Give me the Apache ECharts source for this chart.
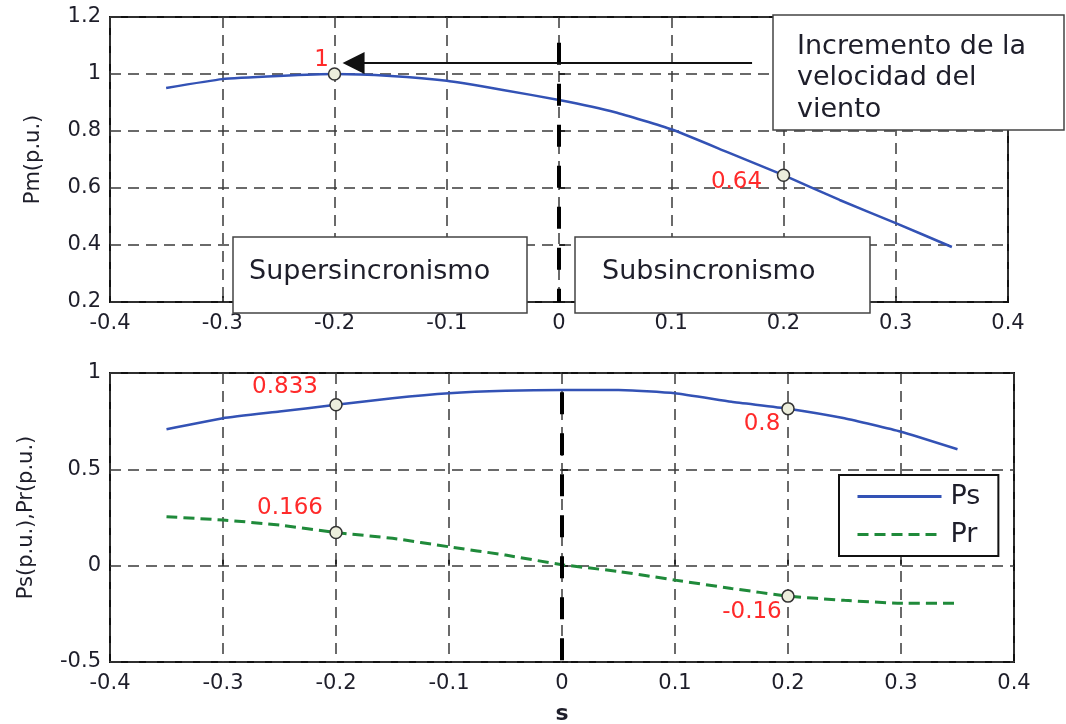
<!DOCTYPE html>
<html>
<head>
<meta charset="utf-8">
<script src="https://cdn.jsdelivr.net/npm/echarts@6/dist/echarts.min.js"></script>
<style>
  html, body { margin: 0; padding: 0; background: #fff; }
  #main { width: 1066px; height: 724px; }
</style>
</head>
<body>
<div id="main"></div>
<script>
// slip values (s) shared by all curves
const sVals = [-0.35, -0.3, -0.25, -0.2, -0.15, -0.1, -0.05, 0, 0.05, 0.1, 0.15, 0.2, 0.25, 0.3, 0.35];
const pm = [0.951, 0.982, 0.993, 1.0, 0.993, 0.976, 0.944, 0.909, 0.866, 0.806, 0.726, 0.645, 0.558, 0.477, 0.393];
const ps = [0.708, 0.765, 0.80, 0.835, 0.869, 0.895, 0.908, 0.912, 0.912, 0.895, 0.851, 0.815, 0.765, 0.695, 0.604];
const pr = [0.254, 0.237, 0.211, 0.172, 0.142, 0.098, 0.055, 0.005, -0.03, -0.075, -0.118, -0.158, -0.18, -0.195, -0.195];

// highlighted points and their labels
const pmMarks = [[-0.2, 1.0], [0.2, 0.645]];
const pmMarkLabels = ['1', '0.64'];
const psMarks = [[-0.2, 0.835], [0.2, 0.815]];
const psMarkLabels = ['0.833', '0.8'];
const prMarks = [[-0.2, 0.172], [0.2, -0.158]];
const prMarkLabels = ['0.166', '-0.16'];

const xTicks = { min: -0.4, max: 0.4, interval: 0.1 };
const pmTicks = { min: 0.2, max: 1.2, interval: 0.2 };
const pTicks = { min: -0.5, max: 1, interval: 0.5 };

const FONT = 'DejaVu Sans, Verdana, sans-serif';
const BLUE = '#3352b5';
const GREEN = '#1f8a3a';

const chart = echarts.init(document.getElementById('main'));

const zip = (xs, ys) => xs.map((x, i) => [x, ys[i]]);

function markData(points, labels, offsets) {
    return points.map((p, i) => ({
        value: p,
        label: { show: true, formatter: labels[i], offset: offsets[i] }
    }));
}

const markerStyle = {
    type: 'scatter',
    symbol: 'circle',
    symbolSize: 12,
    itemStyle: { color: '#eceedc', borderColor: '#333', borderWidth: 1.5, opacity: 1 },
    label: { position: 'inside', color: '#ff2a2a', fontSize: 23, fontFamily: FONT },
    z: 5,
    silent: true
};

const gridLine = { show: true, lineStyle: { color: '#3a3a3a', width: 1.5, type: [11, 7] } };
const tickStyle = { show: true, inside: true, length: 6, lineStyle: { color: '#111', width: 1.5 } };
const labelStyle = { color: '#1e1e2a', fontSize: 21, fontFamily: FONT };
const nameStyle = { color: '#1e1e2a', fontSize: 21, fontFamily: FONT };
const zeroLine = { color: '#000', width: 4, type: [22, 19] };

function textBox(x, y, w, h, text, tx, ty) {
    return {
        type: 'group',
        z: 100,
        children: [
            { type: 'rect', shape: { x: x, y: y, width: w, height: h }, style: { fill: '#fff', stroke: '#444', lineWidth: 1.5 }, z: 100 },
            { type: 'text', x: tx, y: ty, style: { text: text, font: '27px ' + FONT, fill: '#1e1e2a', lineHeight: 31.5, verticalAlign: 'top' }, z: 101 }
        ]
    };
}

const option = {
    animation: false,
    backgroundColor: '#fff',
    grid: [
        { left: 110, right: 58, top: 17, height: 285, outerBoundsMode: 'none', show: true, borderColor: '#111', borderWidth: 2, backgroundColor: 'transparent' },
        { left: 110, right: 52, top: 373, height: 289, outerBoundsMode: 'none', show: true, borderColor: '#111', borderWidth: 2, backgroundColor: 'transparent' }
    ],
    xAxis: [
        { type: 'value', gridIndex: 0, ...xTicks, axisLine: { show: false }, axisTick: tickStyle, splitLine: gridLine, axisLabel: { ...labelStyle, margin: 11 } },
        { type: 'value', gridIndex: 1, ...xTicks, axisLine: { show: false }, axisTick: tickStyle, splitLine: gridLine, axisLabel: { ...labelStyle, margin: 11 },
          name: 's', nameLocation: 'middle', nameGap: 41, nameTextStyle: { ...nameStyle, fontSize: 22, fontWeight: 'bold' } }
    ],
    yAxis: [
        { type: 'value', gridIndex: 0, ...pmTicks, axisLine: { show: false }, axisTick: tickStyle, splitLine: gridLine, axisLabel: { ...labelStyle, margin: 9 },
          name: 'Pm(p.u.)', nameLocation: 'middle', nameGap: 66, nameTextStyle: nameStyle },
        { type: 'value', gridIndex: 1, ...pTicks, axisLine: { show: false }, axisTick: tickStyle, splitLine: gridLine, axisLabel: { ...labelStyle, margin: 9 },
          name: 'Ps(p.u.),Pr(p.u.)', nameLocation: 'middle', nameGap: 73, nameTextStyle: nameStyle }
    ],
    legend: {
        data: ['Ps', 'Pr'],
        orient: 'vertical',
        left: 839,
        top: 475,
        padding: [8, 18, 8, 17],
        itemGap: 11,
        itemWidth: 84,
        itemHeight: 26,
        itemStyle: { opacity: 0 },
        lineStyle: { width: 3 },
        backgroundColor: '#fff',
        borderColor: '#111',
        borderWidth: 2,
        borderRadius: 0,
        textStyle: { color: '#1e1e2a', fontSize: 27, fontFamily: FONT, padding: [0, 0, 0, 4] },
        z: 10
    },
    series: [
        {
            name: 'Pm',
            type: 'line',
            xAxisIndex: 0, yAxisIndex: 0,
            data: zip(sVals, pm),
            symbol: 'none',
            smooth: 0.15,
            lineStyle: { color: BLUE, width: 2.5 },
            z: 3,
            markLine: {
                silent: true,
                animation: false,
                label: { show: false },
                symbol: ['none', 'none'],
                data: [
                    [
                        { coord: [0, 1.11], lineStyle: zeroLine },
                        { coord: [0, 0.2] }
                    ],
                    [
                        { coord: [0.172, 1.039], symbol: 'none', lineStyle: { color: '#111', width: 2, type: 'solid' } },
                        { coord: [-0.183, 1.039], symbol: 'triangle', symbolSize: 22 }
                    ]
                ]
            }
        },
        {
            name: 'Ps',
            type: 'line',
            xAxisIndex: 1, yAxisIndex: 1,
            data: zip(sVals, ps),
            symbol: 'none',
            smooth: 0.15,
            color: BLUE,
            lineStyle: { color: BLUE, width: 2.5 },
            z: 3,
            markLine: {
                silent: true,
                animation: false,
                label: { show: false },
                symbol: ['none', 'none'],
                lineStyle: zeroLine,
                data: [[{ coord: [0, 0.9] }, { coord: [0, -0.5] }]]
            }
        },
        {
            name: 'Pr',
            type: 'line',
            xAxisIndex: 1, yAxisIndex: 1,
            data: zip(sVals, pr),
            symbol: 'none',
            smooth: 0.15,
            color: GREEN,
            lineStyle: { color: GREEN, width: 3, type: [11, 6] },
            z: 3
        },
        { ...markerStyle, name: 'pmMarks', xAxisIndex: 0, yAxisIndex: 0, data: markData(pmMarks, pmMarkLabels, [[-13, -14], [-47, 7]]) },
        { ...markerStyle, name: 'psMarks', xAxisIndex: 1, yAxisIndex: 1, data: markData(psMarks, psMarkLabels, [[-51, -18], [-26, 15]]) },
        { ...markerStyle, name: 'prMarks', xAxisIndex: 1, yAxisIndex: 1, data: markData(prMarks, prMarkLabels, [[-46, -24], [-36, 16]]) }
    ],
    graphic: [
        textBox(233, 237, 294, 76, 'Supersincronismo', 249, 256),
        textBox(575, 237, 295, 76, 'Subsincronismo', 602, 256),
        textBox(773, 15, 291, 115, 'Incremento de la\nvelocidad del\nviento', 797, 31)
    ]
};

chart.setOption(option);
</script>
</body>
</html>
